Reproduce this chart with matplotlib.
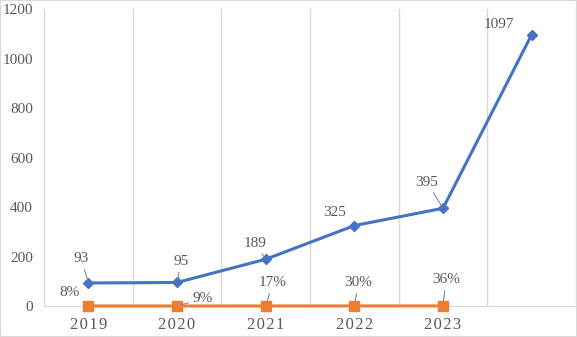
import matplotlib
matplotlib.use("Agg")
import matplotlib.pyplot as plt
import numpy as np

years = ["2019", "2020", "2021", "2022", "2023", ""]
counts = [93, 95, 189, 325, 395, 1097]
shares = [0.08, 0.09, 0.17, 0.30, 0.36]
share_labels = ["8%", "9%", "17%", "30%", "36%"]

# label offsets in pixels (dx, dy), and whether a leader line is drawn
count_offsets = [(-7, 24, True), (4, 21, True), (-11, 16, True), (-20, 13, False), (-16, 26, True), (-33, 10, False)]
share_offsets = [(-19, 13, False), (26, 7, True), (7, 23, True), (4, 23, True), (3, 26, True)]

plt.rcParams['font.family'] = ['Liberation Serif', 'DejaVu Serif']
grey = '#595959'

fig = plt.figure(figsize=(5.77, 3.37), dpi=100)
ax = fig.add_axes([0.0763, 0.092, 0.922, 0.881])

x = np.arange(len(counts))
ax.plot(x, counts, color='#4472C4', lw=2.2, marker='D', ms=5.5, zorder=3, clip_on=False)
ax.plot(x[:len(shares)], shares, color='#ED7D31', lw=2.2, marker='s', ms=7, zorder=3, clip_on=False)

for xi, v, (dx, dy, lead) in zip(x, counts, count_offsets):
    ax.annotate(str(v), (xi, v), xytext=(dx, dy), textcoords='offset pixels',
                ha='center', va='center', fontsize=11, color=grey,
                arrowprops=dict(arrowstyle='-', color='#8c8c8c', lw=0.8, shrinkA=1, shrinkB=2) if lead else None)
for xi, v, lab, (dx, dy, lead) in zip(x, shares, share_labels, share_offsets):
    ax.annotate(lab, (xi, v), xytext=(dx, dy), textcoords='offset pixels',
                ha='center', va='center', fontsize=11, color=grey,
                arrowprops=dict(arrowstyle='-', color='#8c8c8c', lw=0.8, shrinkA=1, shrinkB=3) if lead else None)

ax.set_xlim(-0.5, len(counts) - 0.5)
ax.set_ylim(0, 1200)
ax.set_yticks(range(0, 1201, 200))
ax.set_xticks(x)
ax.set_xticklabels(["\u200a".join(y) for y in years], fontsize=12, color=grey)
ax.set_xticks(np.arange(-0.5, len(counts), 1), minor=True)
ax.tick_params(axis='y', labelsize=11, labelcolor=grey, length=0, pad=8)
ax.tick_params(axis='x', which='both', length=0, pad=8)
ax.grid(axis='x', which='minor', color='#d9d9d9', lw=1)
for s in ['top', 'right', 'left']:
    ax.spines[s].set_visible(False)
ax.spines['bottom'].set_color('#d9d9d9')

fig.patches.append(plt.Rectangle((0, 0), 1, 1, transform=fig.transFigure, fill=False, ec='#d9d9d9', lw=1.5))
fig.savefig('out.png', dpi=100)
